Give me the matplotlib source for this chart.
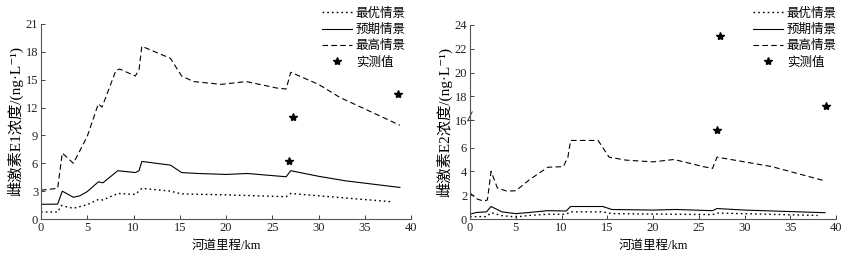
import matplotlib
matplotlib.use("Agg")
import matplotlib.pyplot as plt
import numpy as np
from matplotlib.transforms import blended_transform_factory

plt.rcParams['font.family'] = ['Liberation Serif', 'Noto Sans CJK SC', 'DejaVu Serif']
plt.rcParams['axes.unicode_minus'] = False

# ---------------- data: left panel (E1) ----------------
e1_high_x = [0, 1.8, 2.3, 3.5, 5.0, 6.2, 6.6, 8.1, 8.5, 10.2, 10.6, 10.9, 14.0, 15.2, 16.5, 19.5, 22.2, 25.5, 26.5, 27.0, 30.0, 32.3, 38.8]
e1_high_y = [3.1, 3.3, 7.1, 6.0, 8.9, 12.4, 12.05, 16.0, 16.15, 15.4, 16.1, 18.6, 17.3, 15.4, 14.8, 14.5, 14.8, 14.1, 14.0, 15.8, 14.5, 13.1, 10.1]
e1_exp_x = [0, 1.8, 2.3, 3.5, 4.2, 5.0, 6.2, 6.7, 8.3, 10.2, 10.6, 10.9, 14.0, 15.2, 17.0, 20.0, 22.3, 26.5, 27.0, 30.0, 33.0, 38.8]
e1_exp_y = [1.58, 1.6, 3.0, 2.34, 2.5, 2.95, 4.0, 3.9, 5.2, 5.0, 5.2, 6.2, 5.8, 5.0, 4.9, 4.8, 4.9, 4.55, 5.2, 4.6, 4.1, 3.4]
e1_best_x = [0, 1.8, 2.2, 3.5, 5.0, 6.2, 6.7, 8.3, 10.2, 10.9, 14.0, 15.2, 20.0, 26.5, 27.0, 30.0, 38.0]
e1_best_y = [0.75, 0.75, 1.45, 1.15, 1.55, 2.1, 2.05, 2.75, 2.65, 3.3, 3.0, 2.7, 2.6, 2.4, 2.75, 2.5, 1.85]
e1_obs_x = [26.8, 27.2, 38.6]
e1_obs_y = [6.2, 11.0, 13.5]

# ---------------- data: right panel (E2) ----------------
e2_high_x = [0, 0.7, 1.5, 1.9, 2.3, 3.0, 4.0, 5.0, 6.5, 8.5, 10.2, 10.7, 11.0, 14.0, 15.2, 17.0, 20.0, 22.3, 25.5, 26.5, 27.0, 30.0, 33.0, 38.8]
e2_high_y = [2.2, 1.7, 1.5, 1.6, 4.0, 2.6, 2.35, 2.37, 3.3, 4.35, 4.4, 5.2, 6.6, 6.6, 5.2, 4.95, 4.8, 5.0, 4.4, 4.25, 5.2, 4.8, 4.4, 3.2]
e2_exp_x = [0, 0.7, 1.8, 2.3, 3.5, 5.0, 6.5, 8.5, 10.5, 11.0, 14.5, 15.5, 20.0, 22.5, 26.5, 27.0, 30.0, 38.8]
e2_exp_y = [0.4, 0.55, 0.6, 1.05, 0.6, 0.45, 0.55, 0.7, 0.67, 1.05, 1.05, 0.8, 0.75, 0.8, 0.7, 0.88, 0.75, 0.53]
e2_best_x = [0, 1.8, 2.3, 3.5, 5.0, 6.5, 8.5, 10.5, 11.0, 14.5, 15.5, 26.5, 27.0, 38.0]
e2_best_y = [0.2, 0.2, 0.53, 0.28, 0.17, 0.3, 0.4, 0.4, 0.6, 0.6, 0.45, 0.37, 0.5, 0.3]
e2_obs_x = [27.0, 27.3, 38.9]
e2_obs_y = [7.5, 23.1, 17.2]

labels = ['最优情景', '预期情景', '最高情景', '实测值']
x_ticks = [0, 5, 10, 15, 20, 25, 30, 35, 40]
e1_yticks = [0, 3, 6, 9, 12, 15, 18, 21]
e2_yticks = [0, 2, 4, 6, 16, 18, 20, 22, 24]
e1_ylabel = '雌激素E1浓度/(ng·L⁻¹)'
e2_ylabel = '雌激素E2浓度/(ng·L⁻¹)'
x_label = '河道里程/km'

# broken-axis scale for the E2 panel
def fwd(y):
    y = np.asarray(y, dtype=float)
    return np.where(y < 8, y, np.where(y < 16, 8 + (y - 8) * 0.0375, 8.3 + (y - 16)))

def inv(v):
    v = np.asarray(v, dtype=float)
    return np.where(v < 8, v, np.where(v < 8.3, 8 + (v - 8) / 0.0375, 16 + (v - 8.3)))

fig = plt.figure(figsize=(8.5, 2.59), dpi=100)
ax1 = fig.add_axes([41/850, 40/259, 370/850, 195/259])
ax2 = fig.add_axes([470/850, 40/259, 366/850, 194/259])

lw = 0.8
dot = (0, (1.2, 2.2))
dash = (0, (5, 3))

def draw(ax, bx, by, ex, ey, hx, hy, ox, oy):
    ax.plot(bx, by, color='black', lw=1.0, linestyle=dot, label=labels[0])
    ax.plot(ex, ey, color='black', lw=lw, linestyle='-', label=labels[1])
    ax.plot(hx, hy, color='black', lw=lw, linestyle=dash, label=labels[2])
    ax.plot(ox, oy, linestyle='none', marker='*', color='black', markersize=6, label=labels[3])
    for s in ['top', 'right']:
        ax.spines[s].set_visible(False)
    for s in ['left', 'bottom']:
        ax.spines[s].set_color('#555555')
        ax.spines[s].set_linewidth(0.8)
    ax.tick_params(direction='in', length=3, width=0.6, labelsize=9, pad=2, colors='#222222')
    ax.set_xlim(0, 40)
    ax.set_xticks(x_ticks)
    ax.set_xlabel(x_label, fontsize=9, labelpad=4)

draw(ax1, e1_best_x, e1_best_y, e1_exp_x, e1_exp_y, e1_high_x, e1_high_y, e1_obs_x, e1_obs_y)
ax1.set_ylim(0, 21)
ax1.set_yticks(e1_yticks)
ax1.set_ylabel(e1_ylabel, fontsize=11, labelpad=2)

ax2.set_yscale('function', functions=(fwd, inv))
draw(ax2, e2_best_x, e2_best_y, e2_exp_x, e2_exp_y, e2_high_x, e2_high_y, e2_obs_x, e2_obs_y)
ax2.set_ylim(0, 24)
ax2.set_yticks(e2_yticks)
ax2.set_yticklabels([str(t) for t in e2_yticks])
ax2.minorticks_off()
ax2.set_ylabel(e2_ylabel, fontsize=11, labelpad=2)

# break marks on the E2 axis
tr = blended_transform_factory(ax2.transAxes, ax2.transData)
for yy in [15.2, 16.2]:
    ax2.plot([-0.006, 0.006], [yy - 0.5, yy + 0.5], color='#333333', lw=0.7,
             transform=tr, clip_on=False)

for ax, xl in [(ax1, 322/850), (ax2, 753/850)]:
    ax.legend(loc='upper left', bbox_to_anchor=(xl, 0.970), bbox_transform=fig.transFigure,
              frameon=False, fontsize=9, handlelength=2.4, handletextpad=0.3,
              labelspacing=0.33, borderaxespad=0, borderpad=0)

fig.savefig('out.png', dpi=100)
